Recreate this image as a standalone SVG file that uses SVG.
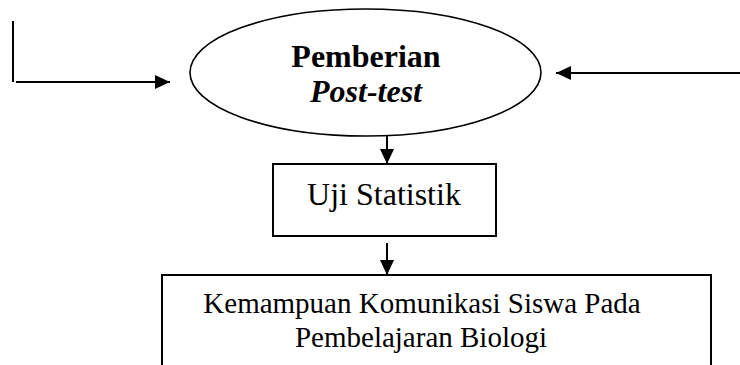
<svg xmlns="http://www.w3.org/2000/svg" width="740" height="365" viewBox="0 0 740 365">
<style>
.shape{fill:#fff;stroke:#000;stroke-width:2}
.ln{stroke:#000;stroke-width:2;fill:none}
.t{font-family:"Liberation Serif","Times New Roman",serif;fill:#000;text-anchor:middle}
</style>
<defs>
<marker id="ah" markerWidth="15" markerHeight="14" refX="15" refY="7" orient="auto" markerUnits="userSpaceOnUse">
<path d="M0,0 L15,7 L0,14 Z" fill="#000"/>
</marker>
</defs>
<rect width="740" height="365" fill="#fff"/>
<g id="connectors">
<line class="ln" x1="13" y1="21" x2="13" y2="82"/>
<line class="ln" x1="16" y1="82" x2="170" y2="82" marker-end="url(#ah)"/>
<line class="ln" x1="740" y1="73" x2="556" y2="73" marker-end="url(#ah)"/>
<line class="ln" x1="387" y1="136" x2="387" y2="164" marker-end="url(#ah)"/>
<line class="ln" x1="387" y1="243" x2="387" y2="275" marker-end="url(#ah)"/>
</g>
<g id="pemberian">
<ellipse class="shape" cx="365.5" cy="72.5" rx="175.5" ry="63.5" style="stroke-width:1.6"/>
<text class="t" x="366" y="67" font-size="32" font-weight="bold">Pemberian</text>
<text class="t" x="366" y="102" font-size="32" font-weight="bold" font-style="italic">Post-test</text>
</g>
<g id="uji">
<rect class="shape" x="273" y="164" width="223" height="72"/>
<text class="t" x="384" y="205" font-size="32">Uji Statistik</text>
</g>
<g id="kemampuan">
<rect class="shape" x="162" y="275" width="549" height="110"/>
<text class="t" x="422" y="313" font-size="29">Kemampuan Komunikasi Siswa Pada</text>
<text class="t" x="421" y="347" font-size="29">Pembelajaran Biologi</text>
</g>
</svg>
